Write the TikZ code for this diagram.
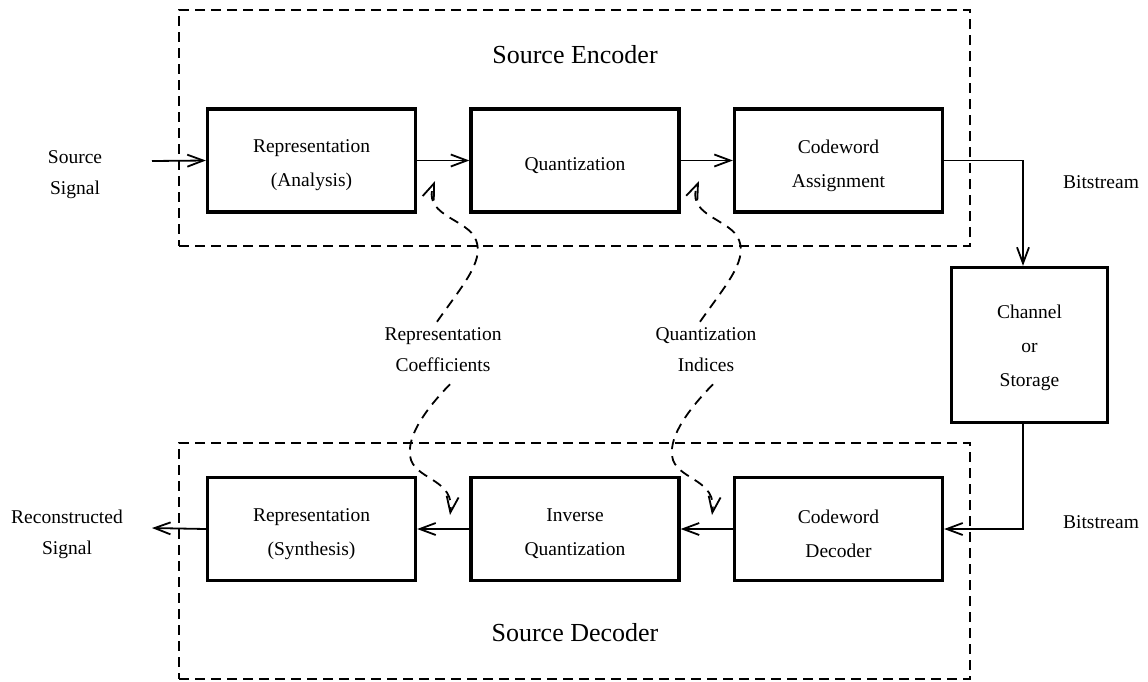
\documentclass[tikz,border=0pt]{standalone}
\usepackage{fontspec}
\setmainfont{Liberation Serif}
\usetikzlibrary{arrows.meta}
\begin{document}
\begin{tikzpicture}[x=1pt,y=-1pt,
  blk/.style={draw, line width=3.3pt, minimum width=208pt, minimum height=103pt, inner sep=0pt},
  btxt/.style={align=center, inner sep=0pt, yshift=-5pt, font=\fontsize{19.5}{34}\selectfont},
  lbl/.style={align=center, inner sep=0pt, font=\fontsize{19.5}{31}\selectfont},
  ttl/.style={inner sep=0pt, font=\fontsize{26}{30}\selectfont},
  frm/.style={draw, dash pattern=on 10pt off 6pt, line width=2pt},
  tip/.style={-{Straight Barb[length=16pt,width=12pt,line width=1.8pt]}},
  conn/.style={line width=1.8pt, tip},
  wig/.style={line width=1.8pt, dash pattern=on 10pt off 7pt, tip}]
\useasboundingbox (0,0) rectangle (1148,681);
% frames
\node[frm, minimum width=791pt, minimum height=236pt, inner sep=0pt] (enc) at (574.5,128) {};
\node[frm, minimum width=791pt, minimum height=236pt, inner sep=0pt] (dec) at (574.5,561) {};
\node[ttl] (enct) at (575,55) {Source Encoder};
\node[ttl] (dect) at (575,633) {Source Decoder};
% blocks
\node[blk, label={[btxt]center:Representation\\(Analysis)}] (rep) at (311.5,160.5) {};
\node[blk, label={[btxt]center:Quantization}] (qnt) at (575,160.5) {};
\node[blk, label={[btxt]center:Codeword\\Assignment}] (cwa) at (838.5,160.5) {};
\node[blk, label={[btxt]center:Representation\\(Synthesis)}] (syn) at (311.5,529) {};
\node[blk, label={[btxt]center:Inverse\\Quantization}] (iqn) at (575,529) {};
\node[blk, label={[btxt]center:Codeword\\Decoder}] (cwd) at (838.5,529) {};
\node[blk, minimum width=156pt, minimum height=155pt,
  label={[btxt,yshift=2pt]center:Channel\\or\\Storage}] (chn) at (1029.5,345) {};
% labels
\node[lbl] (src) at (75,175) {Source\\Signal};
\node[lbl] (rec) at (67,534) {Reconstructed\\Signal};
\node[lbl] (bs1) at (1101,182) {Bitstream};
\node[lbl] (bs2) at (1101,522) {Bitstream};
\node[lbl] (rc) at (443,350) {Representation\\Coefficients};
\node[lbl] (qi) at (706,350) {Quantization\\Indices};
% connectors
\coordinate (srcend) at (152,161);
\coordinate (recend) at (152,528);
\draw[conn] (srcend) -- (rep.west);
\draw[conn] (rep.east) -- (qnt.west);
\draw[conn] (qnt.east) -- (cwa.west);
\draw[conn] (cwa.east) -| (chn.north -| 1023,0);
\draw[conn] (chn.south -| 1023,0) |- (cwd.east);
\draw[conn] (cwd.west) -- (iqn.east);
\draw[conn] (iqn.west) -- (syn.east);
\draw[conn] (syn.west) -- (recend);
% dashed wiggles
\coordinate (t1) at (435,181);
\coordinate (t2) at (699,181);
\coordinate (b1) at (450,515);
\coordinate (b2) at (712,515);
\draw[wig] (rc.north) ++(-6,-6) .. controls (465,282) and (487,258) .. (474,236)
  .. controls (462,218) and (422,214) .. (t1);
\draw[wig] (qi.north) ++(-6,-6) .. controls (728,282) and (750,258) .. (737,236)
  .. controls (725,218) and (685,214) .. (t2);
\draw[wig] (rc.south) ++(7,12) .. controls (422,413) and (405,440) .. (411,460)
  .. controls (418,480) and (455,480) .. (b1);
\draw[wig] (qi.south) ++(7,12) .. controls (685,413) and (667,440) .. (673,460)
  .. controls (680,480) and (717,480) .. (b2);
\end{tikzpicture}
\end{document}
